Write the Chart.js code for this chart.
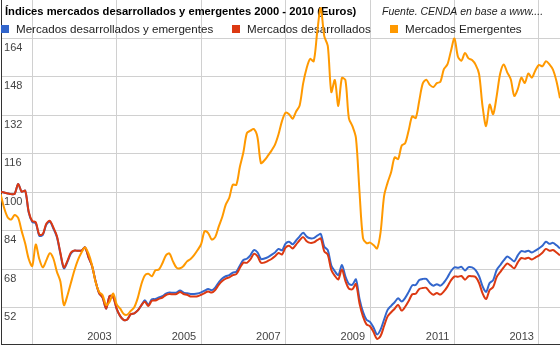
<!DOCTYPE html>
<html>
<head>
<meta charset="utf-8">
<script src="https://cdn.jsdelivr.net/npm/chart.js@4.4.1/dist/chart.umd.min.js"></script>
<style>
  body { margin: 0; background: #fff; }
  canvas { display: block; }
</style>
</head>
<body>
<canvas id="grafico" width="560" height="346"></canvas>
<script>
const titulo = 'Índices mercados desarrollados y emergentes 2000 - 2010 (Euros)';
const fuente = 'Fuente. CENDA en base a www....';

// meses en años decimales, desde abril de 2000 (160 meses)
const inicio = 2000 + 3 / 12;
const meses = [];
for (let i = 0; i < 160; i++) meses.push(inicio + i / 12);

const desarrolladosYEmergentes = [
  100.2, 99.9, 99.5, 99.2, 99.3, 103.4, 100.2, 100.6, 91.5, 87.6,
  87.1, 81.9, 82.2, 86.5, 87.7, 84.9, 81.4, 74.4, 68.3, 71.0,
  74.5, 75.7, 75.6, 75.7, 77.0, 72.9, 69.3, 62.9, 58.0, 56.1,
  51.5, 56.8, 56.4, 51.4, 48.4, 46.8, 47.0, 49.2, 49.6, 50.8,
  52.9, 55.0, 53.2, 55.4, 55.5, 56.2, 56.7, 57.8, 58.2, 58.1,
  58.2, 59.1, 58.2, 57.9, 57.6, 57.6, 57.8, 58.3, 59.0, 59.7,
  59.2, 60.3, 62.4, 64.1, 65.0, 65.5, 66.5, 66.9, 69.4, 71.8,
  72.3, 73.7, 75.9, 75.0, 72.2, 72.4, 73.0, 73.9, 74.9, 76.4,
  75.8, 78.6, 79.4, 78.3, 79.9, 81.6, 83.1, 81.5, 80.8, 80.9,
  81.9, 82.6, 77.3, 75.9, 69.5, 67.1, 65.5, 69.7, 65.0, 61.8,
  61.5, 63.7, 55.7, 50.2, 46.9, 46.0, 43.7, 40.8, 42.8, 47.0,
  51.0, 52.7, 54.2, 55.8, 54.5, 56.0, 58.5, 61.2, 61.4, 63.4,
  63.9, 63.9, 62.1, 61.1, 61.7, 61.1, 62.4, 64.5, 67.1, 68.7,
  68.5, 68.9, 67.4, 68.8, 68.7, 67.6, 65.1, 60.8, 58.5, 62.2,
  63.4, 67.6, 69.6, 71.6, 73.2, 72.3, 71.2, 73.7, 75.5, 75.2,
  75.6, 74.9, 75.7, 76.6, 77.7, 79.4, 78.5, 78.9, 77.9, 76.6
];

const desarrollados = [
  100.2, 99.9, 99.5, 99.2, 99.3, 103.4, 100.2, 100.6, 91.9, 88.0,
  87.5, 82.3, 82.6, 86.9, 88.1, 85.3, 81.8, 74.8, 68.7, 71.4,
  74.9, 75.7, 75.6, 75.7, 77.0, 72.9, 69.3, 62.9, 58.0, 56.1,
  51.5, 56.8, 56.4, 51.4, 48.4, 46.8, 47.0, 49.2, 49.6, 50.8,
  52.9, 54.4, 52.6, 54.8, 54.9, 55.6, 56.1, 57.2, 57.6, 57.5,
  57.6, 58.5, 57.6, 57.3, 56.6, 56.6, 56.7, 57.3, 58.0, 58.7,
  58.2, 59.3, 61.4, 63.0, 64.0, 64.5, 65.5, 65.9, 68.4, 70.7,
  70.6, 72.0, 74.3, 73.4, 70.6, 70.7, 71.4, 72.2, 73.3, 74.7,
  74.1, 76.9, 77.7, 76.6, 78.2, 80.0, 81.3, 79.6, 78.9, 79.1,
  80.0, 80.7, 75.4, 74.0, 67.6, 65.2, 63.7, 67.8, 63.1, 59.9,
  59.6, 61.8, 53.8, 48.3, 45.0, 44.2, 41.8, 38.9, 40.1, 44.3,
  48.3, 50.0, 51.5, 53.1, 50.7, 52.3, 54.7, 57.5, 57.7, 59.7,
  60.1, 60.2, 58.4, 57.3, 58.0, 57.4, 58.7, 60.7, 63.3, 64.9,
  64.8, 65.1, 63.6, 65.0, 65.0, 64.7, 62.2, 57.9, 55.5, 59.3,
  60.5, 64.7, 66.7, 68.7, 70.3, 69.4, 68.3, 70.8, 72.6, 72.3,
  72.7, 72.0, 72.8, 73.6, 74.8, 76.4, 75.6, 75.9, 74.9, 73.7
];

const emergentes = [
  99.3, 93.5, 89.6, 88.6, 90.5, 89.3, 83.8, 78.6, 72.2, 69.3,
  78.2, 72.2, 68.7, 71.6, 74.6, 72.4, 66.9, 62.8, 53.0, 57.0,
  62.3, 67.5, 71.8, 74.9, 77.0, 74.4, 69.6, 62.6, 58.5, 57.1,
  53.0, 54.4, 57.8, 53.3, 51.5, 49.3, 49.0, 50.6, 52.1, 56.0,
  61.6, 65.3, 66.0, 65.0, 67.5, 67.8, 70.4, 73.7, 74.5, 71.2,
  68.6, 68.3, 69.3, 71.2, 72.2, 73.8, 75.9, 78.4, 83.8, 83.0,
  80.3, 81.3, 85.7, 89.7, 94.8, 97.7, 103.1, 103.1, 110.5, 116.5,
  124.6, 125.6, 126.3, 123.0, 112.1, 113.3, 115.2, 117.3, 119.8, 124.1,
  129.7, 133.1, 132.5, 130.6, 133.6, 136.1, 145.3, 151.7, 155.5, 154.5,
  166.7, 176.7, 165.0, 160.9, 141.7, 146.7, 135.9, 147.5, 146.7, 130.7,
  127.5, 122.6, 100.5, 80.9, 78.8, 79.0, 78.0, 76.6, 83.3, 98.4,
  104.0, 108.3, 114.5, 113.8, 119.4, 120.4, 125.8, 131.6, 130.9, 138.1,
  145.3, 146.8, 144.7, 143.8, 145.4, 146.0, 151.2, 153.2, 158.8, 164.0,
  156.4, 154.8, 158.0, 155.7, 155.0, 153.1, 149.2, 135.6, 127.5, 136.5,
  132.5, 140.0, 149.4, 153.2, 149.9, 147.0, 140.1, 142.9, 147.7, 145.5,
  149.4, 147.7, 150.7, 153.0, 152.4, 154.5, 153.2, 151.0, 146.2, 139.1
];

const anios = [2001, 2003, 2005, 2007, 2009, 2011, 2013];
const aniosConEtiqueta = [2003, 2005, 2007, 2009, 2011, 2013];
const valoresEje = [52, 68, 84, 100, 116, 132, 148, 164];

const fuenteTexto = '"Liberation Sans", Arial, sans-serif';
Chart.defaults.font.family = fuenteTexto;
Chart.defaults.font.size = 11;
Chart.defaults.color = '#444';

// titulo y leyenda dibujados dentro del area del grafico
const textos = {
  id: 'textos',
  beforeDatasetsDraw(chart) {
    const ctx = chart.ctx;
    ctx.save();
    ctx.textBaseline = 'middle';
    ctx.fillStyle = '#000';
    ctx.font = 'bold 11.2px ' + fuenteTexto;
    ctx.fillText(titulo, 5, 12);
    ctx.fillStyle = '#222';
    ctx.font = 'italic 10.5px ' + fuenteTexto;
    ctx.fillText(fuente, 382, 12);
    ctx.font = '11.6px ' + fuenteTexto;
    const xs = [1, 232, 390];
    chart.data.datasets.forEach((ds, i) => {
      ctx.fillStyle = ds.borderColor;
      ctx.fillRect(xs[i], 25, 8, 8);
      ctx.fillStyle = '#222';
      ctx.fillText(ds.label, xs[i] + 15, 29.5);
    });
    ctx.restore();
  }
};

new Chart(document.getElementById('grafico'), {
  type: 'line',
  data: {
    labels: meses,
    datasets: [{
      label: 'Mercados desarrollados y emergentes',
      data: desarrolladosYEmergentes,
      borderColor: '#3366cc',
      order: 2
    }, {
      label: 'Mercados desarrollados',
      data: desarrollados,
      borderColor: '#dc3912',
      order: 1
    }, {
      label: 'Mercados Emergentes',
      data: emergentes,
      borderColor: '#ff9900',
      order: 0
    }]
  },
  options: {
    responsive: false,
    animation: false,
    layout: { autoPadding: false, padding: { left: 1, right: 0, top: 0, bottom: 2 } },
    elements: {
      point: { radius: 0 },
      line: { borderWidth: 2, tension: 0.3, fill: false }
    },
    plugins: { legend: { display: false }, title: { display: false }, tooltip: { enabled: false } },
    scales: {
      x: {
        type: 'linear',
        min: 2000.26,
        max: 2013.5,
        afterBuildTicks: (eje) => { eje.ticks = anios.map(v => ({ value: v })); },
        grid: { color: '#d0d0d0', drawTicks: false },
        border: { color: '#333' },
        ticks: {
          mirror: true,
          padding: 0,
          align: 'end',
          labelOffset: -5,
          maxRotation: 0,
          autoSkip: false,
          callback: (v) => aniosConEtiqueta.includes(v) ? String(v) : ''
        }
      },
      y: {
        min: 36.8,
        max: 180,
        afterBuildTicks: (eje) => { eje.ticks = valoresEje.map(v => ({ value: v })); },
        grid: { color: '#d0d0d0', drawTicks: false },
        border: { color: '#333' },
        ticks: {
          mirror: true,
          padding: 0,
          labelOffset: 9.5,
          font: { size: 11, lineHeight: 0.01 },
          callback: (v) => ' ' + v
        }
      }
    }
  },
  plugins: [textos]
});
</script>
</body>
</html>
